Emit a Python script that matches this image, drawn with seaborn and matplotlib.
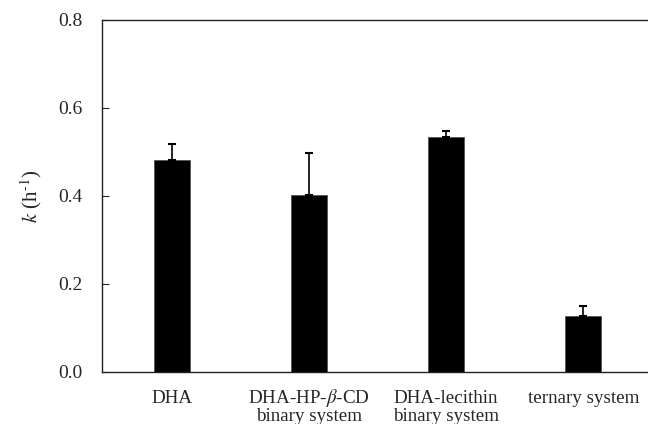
import numpy as np
import pandas as pd
import matplotlib
matplotlib.use("Agg")
import matplotlib.pyplot as plt
import seaborn as sns

# values
groups = ["DHA", "DHA-HP-$\\beta$-CD\nbinary system", "DHA-lecithin\nbinary system", "ternary system"]
k_mean = [0.482, 0.401, 0.535, 0.126]
k_err = [0.036, 0.096, 0.013, 0.024]

df = pd.DataFrame({"group": groups, "k": k_mean})

sns.set_style("ticks")
plt.rcParams["font.family"] = ["Liberation Serif", "DejaVu Serif"]
plt.rcParams["mathtext.fontset"] = "stix"

fig = plt.figure(figsize=(6.48, 4.24), dpi=100)
ax = fig.add_axes([0.157, 0.123, 0.851, 0.830])

sns.barplot(data=df, x="group", y="k", color="black", width=0.26,
            edgecolor="#555555", linewidth=0.6, ax=ax)
ax.errorbar(range(len(groups)), k_mean, yerr=[np.zeros(len(k_err)), k_err],
            fmt="none", ecolor="black", elinewidth=1.2, capsize=3, capthick=1.5)

ax.set_xlim(-0.51, 3.51)
ax.set_ylim(0, 0.8)
ax.set_yticks([0.0, 0.2, 0.4, 0.6, 0.8])
ax.set_yticklabels(["0.0", "0.2", "0.4", "0.6", "0.8"])
ax.tick_params(axis="y", direction="in", length=5, labelsize=14, pad=14)
ax.tick_params(axis="x", length=0)
ax.set_xticklabels([])
ax.set_xlabel("")
ax.set_ylabel("$k$ (h$^{\\text{-1}}$)", fontsize=15, labelpad=10)

# category labels line by line so all baselines line up
for i, lab in enumerate(groups):
    for j, line in enumerate(lab.split("\n")):
        ax.annotate(line, xy=(i, 0), xycoords=("data", "axes fraction"),
                    xytext=(0, -31 - 18 * j), textcoords="offset pixels",
                    ha="center", va="baseline", fontsize=13.7)

for s in ["left", "bottom", "top"]:
    ax.spines[s].set_visible(True)
    ax.spines[s].set_color("#222222")
    ax.spines[s].set_linewidth(1.0)
ax.spines["right"].set_visible(False)

fig.savefig("out.png", dpi=100)
